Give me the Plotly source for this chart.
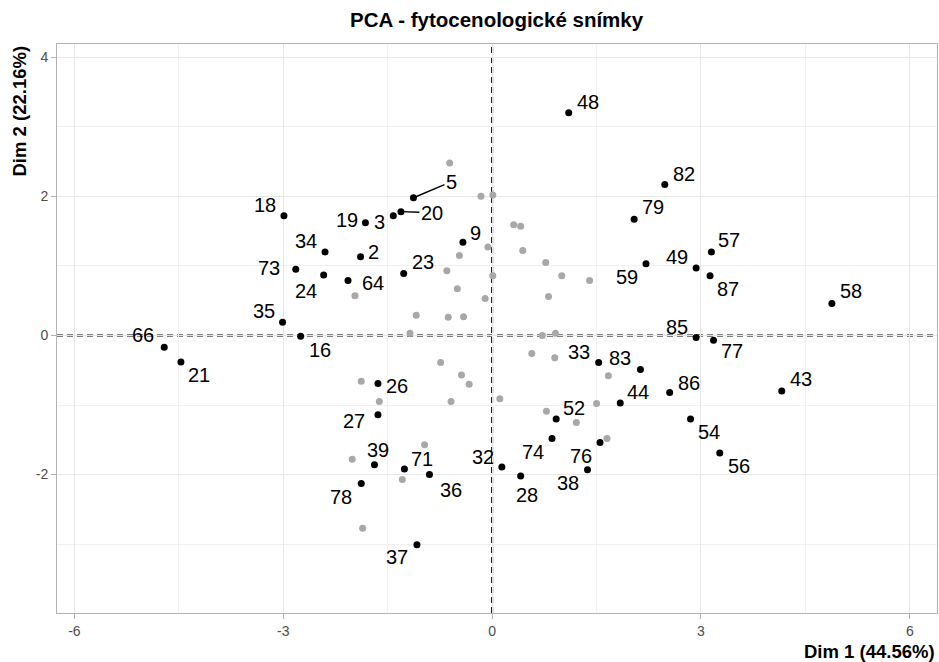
import plotly.graph_objects as go

# Labelled (active) observations
lab_names = ["48", "82", "79", "57", "49", "59", "87", "58", "85", "77", "33", "83",
             "44", "86", "43", "54", "56", "52", "74", "76", "38", "28", "32", "36",
             "71", "37", "39", "78", "26", "27", "66", "21", "35", "16", "73", "24",
             "64", "34", "2", "18", "19", "3", "20", "5", "9", "23"]
lab_x = [1.10, 2.48, 2.04, 3.15, 2.93, 2.21, 3.13, 4.88, 2.93, 3.18, 1.53, 2.13,
         1.84, 2.55, 4.16, 2.85, 3.27, 0.92, 0.86, 1.55, 1.37, 0.41, 0.14, -0.90,
         -1.26, -1.08, -1.69, -1.88, -1.64, -1.64, -4.71, -4.47, -3.01, -2.75, -2.82, -2.42,
         -2.07, -2.40, -1.89, -2.99, -1.82, -1.42, -1.31, -1.13, -0.42, -1.27]
lab_y = [3.20, 2.17, 1.67, 1.20, 0.97, 1.03, 0.86, 0.46, -0.03, -0.07, -0.39, -0.49,
         -0.97, -0.82, -0.80, -1.20, -1.69, -1.20, -1.48, -1.54, -1.93, -2.02, -1.89, -2.00,
         -1.92, -3.01, -1.86, -2.13, -0.69, -1.14, -0.17, -0.38, 0.19, -0.01, 0.95, 0.87,
         0.79, 1.20, 1.13, 1.72, 1.62, 1.72, 1.78, 1.98, 1.34, 0.89]

# Supplementary (grey, unlabelled) observations
sup_x = [-1.97, -0.61, -0.16, 0.01, 0.31, 0.41, -0.06, -0.47, 0.44, 0.77, -0.65, 0.01,
         1.00, 1.40, -0.50, 0.81, -0.10, -1.09, -0.63, -0.41, -1.18, 0.72, 0.91, 0.57,
         0.90, -1.88, -1.62, -2.01, -1.86, -1.29, -0.74, -0.44, -0.33, -0.59, 0.11, 1.67,
         1.50, 0.78, 1.21, 1.65, -0.97]
sup_y = [0.57, 2.48, 2.00, 2.02, 1.59, 1.57, 1.27, 1.15, 1.22, 1.05, 0.93, 0.86,
         0.86, 0.79, 0.67, 0.56, 0.53, 0.29, 0.26, 0.27, 0.03, 0.00, 0.03, -0.26,
         -0.32, -0.66, -0.95, -1.78, -2.77, -2.07, -0.39, -0.57, -0.70, -0.95, -0.91, -0.58,
         -0.98, -1.09, -1.25, -1.48, -1.57]

x_ticks = [-6, -3, 0, 3, 6]
y_ticks = [-4, -2, 0, 2, 4]
title_text = "PCA - fytocenologické snímky"
x_title = "Dim 1 (44.56%)"
y_title = "Dim 2 (22.16%)"

# label offsets in pixels (dx right, dy down) - styling for repelled labels
label_offsets = {
    "48": (19, -11), "82": (19, -11), "79": (19, -12), "57": (18, -12), "49": (-19, -11),
    "59": (-19, 13), "87": (18, 13), "58": (19, -12), "85": (-19, -11), "77": (18, 11),
    "33": (-20, -11), "83": (-20, -12), "44": (18, -11), "86": (19, -10), "43": (19, -12),
    "54": (18, 13), "56": (19, 13), "52": (18, -11), "74": (-19, 14), "76": (-19, 13),
    "38": (-20, 13), "28": (6, 19), "32": (-19, -10), "36": (22, 15), "71": (18, -10),
    "37": (-20, 12), "39": (4, -15), "78": (-20, 13), "26": (19, 3), "27": (-24, 6),
    "66": (-21, -12), "21": (18, 13), "35": (-19, -11), "16": (19, 14), "73": (-27, -1),
    "24": (-18, 16), "64": (25, 2), "34": (-19, -11), "2": (13, -5), "18": (-19, -11),
    "19": (-18, -3), "3": (-14, 6), "20": (31, 1), "5": (38, -16), "9": (13, -9),
    "23": (19, -12),
}
with_segment = {"5", "20"}

FONT = "Liberation Sans, Arial, sans-serif"

fig = go.Figure()
fig.add_trace(go.Scatter(x=sup_x, y=sup_y, mode="markers",
                         marker=dict(color="#A8A8A8", size=7, line=dict(width=0)),
                         hoverinfo="skip", showlegend=False))
fig.add_trace(go.Scatter(x=lab_x, y=lab_y, mode="markers", text=lab_names,
                         marker=dict(color="black", size=7, line=dict(width=0)),
                         showlegend=False))

annotations = []
for n, xv, yv in zip(lab_names, lab_x, lab_y):
    dx, dy = label_offsets[n]
    if n in with_segment:
        annotations.append(dict(x=xv, y=yv, xref="x", yref="y", text=n,
                                showarrow=True, arrowhead=0, arrowwidth=1.4,
                                arrowcolor="black", ax=dx, ay=dy, standoff=0,
                                font=dict(family=FONT, size=20, color="black")))
    else:
        annotations.append(dict(x=xv, y=yv, xref="x", yref="y", text=n,
                                showarrow=False, xshift=dx, yshift=-dy,
                                font=dict(family=FONT, size=20, color="black")))

annotations.append(dict(text=y_title, xref="paper", yref="paper", x=0, y=1,
                        xanchor="center", yanchor="top", xshift=-38, textangle=-90,
                        showarrow=False,
                        font=dict(family=FONT, size=18.5, color="black", weight="bold")))
annotations.append(dict(text=x_title, xref="paper", yref="paper", x=1, y=0,
                        xanchor="right", yanchor="middle", yshift=-38,
                        showarrow=False,
                        font=dict(family=FONT, size=18.5, color="black", weight="bold")))
annotations.append(dict(text=title_text, xref="paper", yref="paper", x=0.5, y=1,
                        xanchor="center", yanchor="bottom", yshift=11,
                        showarrow=False,
                        font=dict(family=FONT, size=20.5, color="black", weight="bold")))

shapes = [
    dict(type="line", xref="x", yref="paper", x0=0, x1=0, y0=0, y1=1,
         line=dict(color="black", width=2, dash="6px,4px"), layer="between"),
    dict(type="line", xref="paper", yref="y", x0=0, x1=1, y0=0, y1=0,
         line=dict(color="black", width=2, dash="6px,4px"), layer="between"),
]

axis_common = dict(showgrid=True, gridcolor="#E6E6E6", gridwidth=1,
                   zeroline=False, showline=True, mirror=True, linecolor="#B3B3B3",
                   linewidth=1, ticks="outside", ticklen=5, tickcolor="#B3B3B3",
                   tickfont=dict(family=FONT, size=14, color="#4D4D4D"))

fig.update_layout(
    width=939, height=662,
    margin=dict(l=57, r=2, t=44, b=49),
    paper_bgcolor="white", plot_bgcolor="white",
    xaxis=dict(range=[-6.25, 6.39], tickvals=x_ticks, ticktext=[str(v) for v in x_ticks],
               minor=dict(dtick=1.5, tick0=0, showgrid=True, gridcolor="#F0F0F0", gridwidth=1),
               **axis_common),
    yaxis=dict(range=[-3.99, 4.19], tickvals=y_ticks, ticktext=[str(v) for v in y_ticks],
               minor=dict(dtick=1, tick0=0, showgrid=True, gridcolor="#F0F0F0", gridwidth=1),
               **axis_common),
    annotations=annotations, shapes=shapes,
    showlegend=False,
)

fig.write_html("out.html")
